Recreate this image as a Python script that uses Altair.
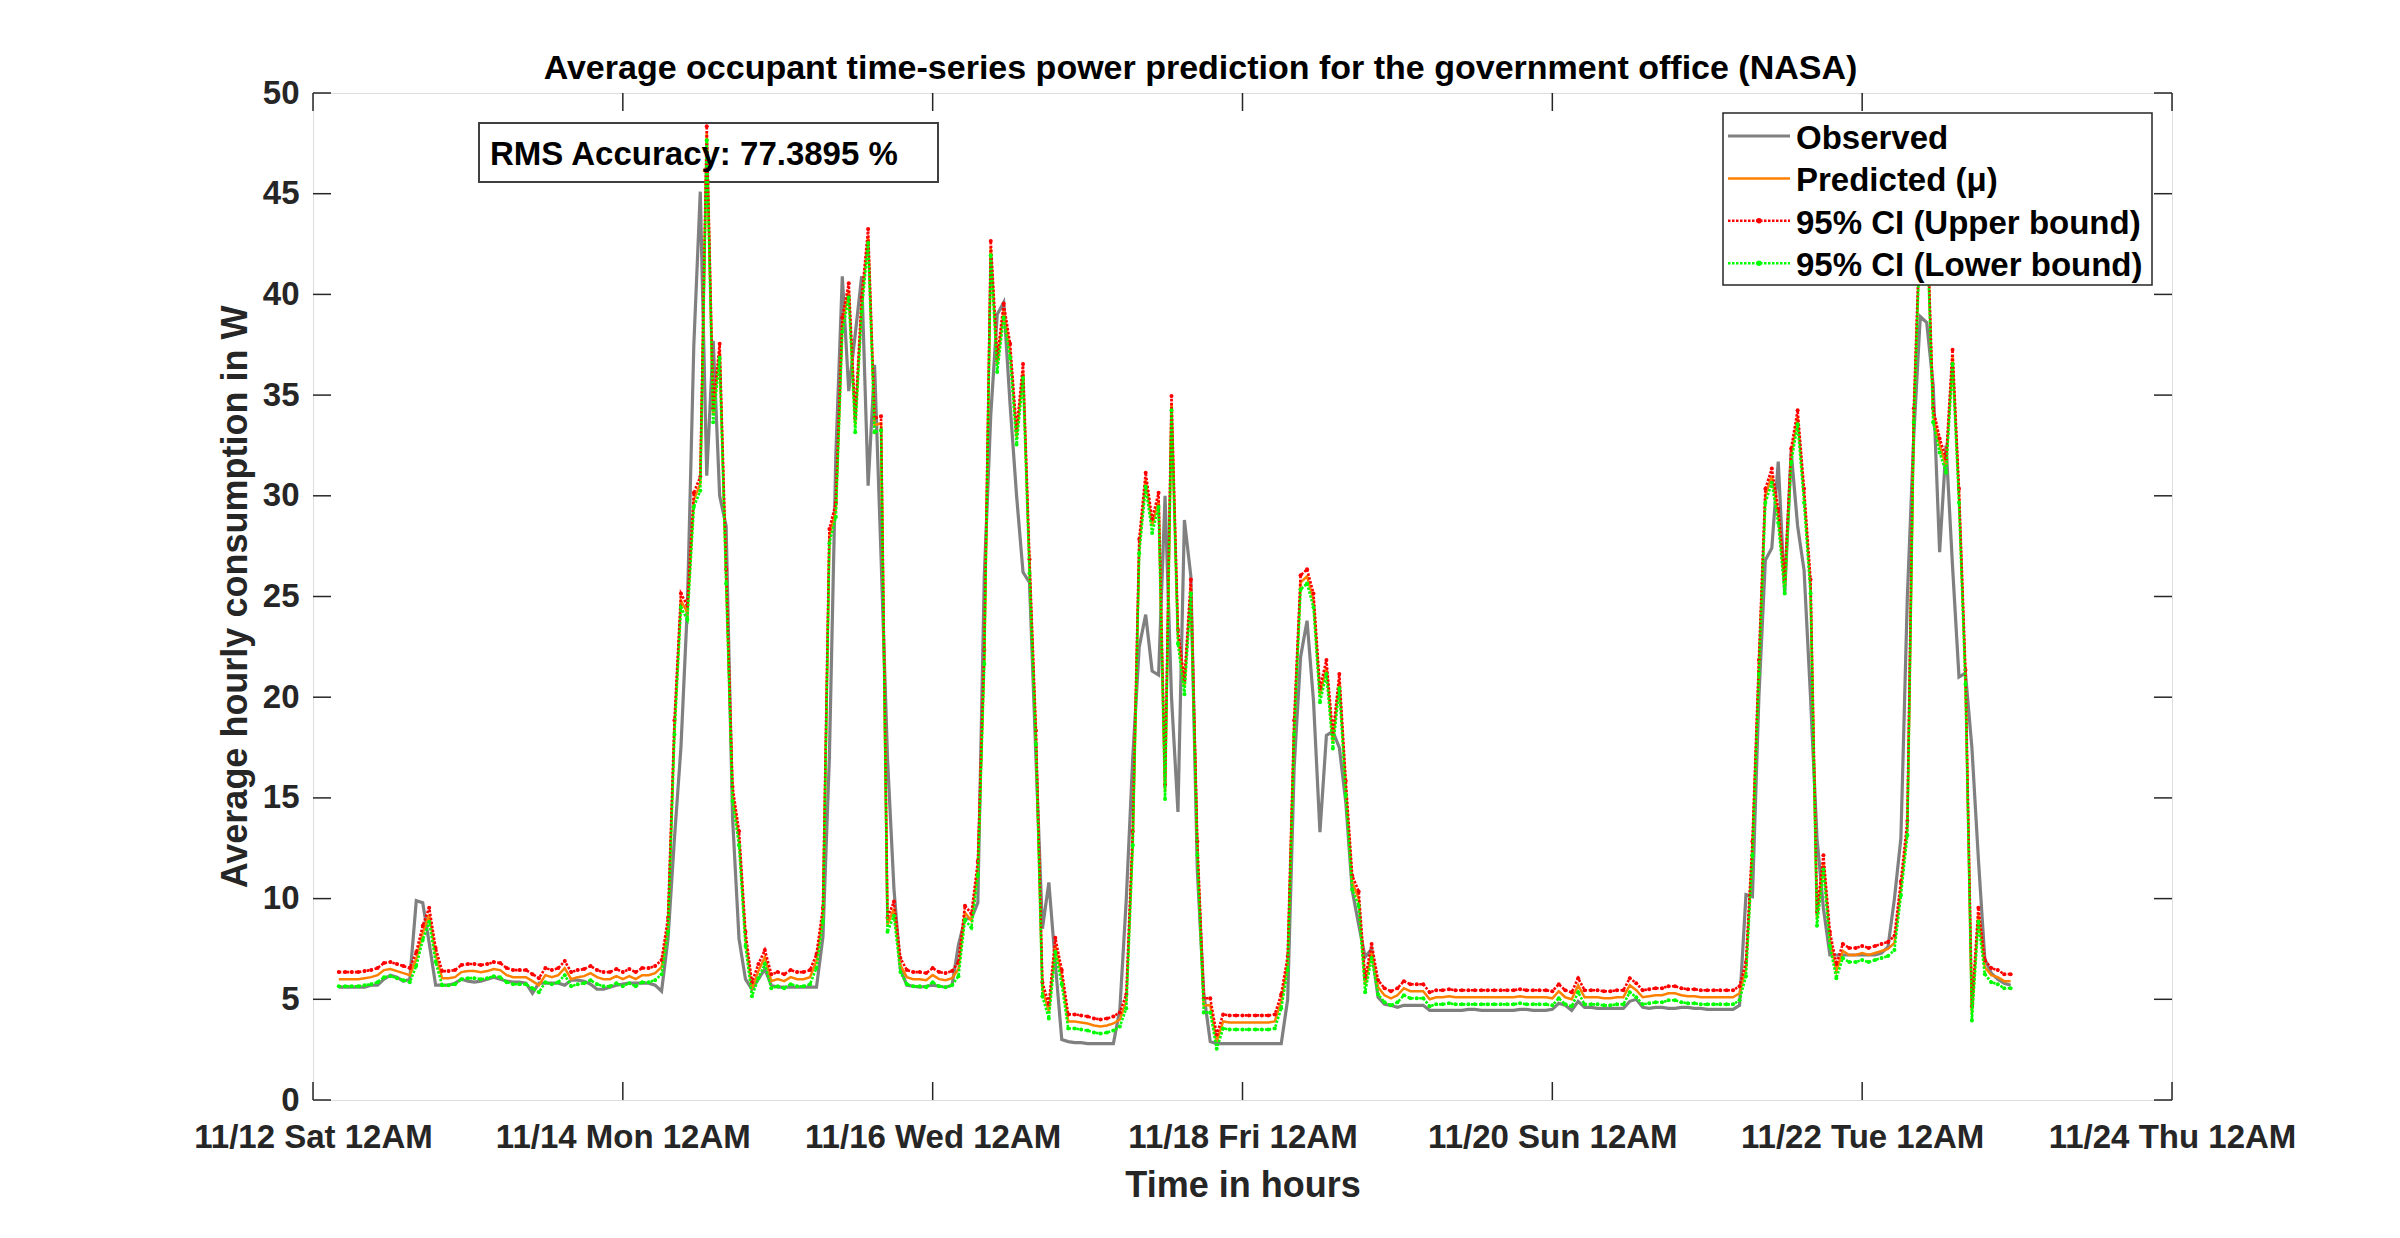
import json
import altair as alt
import pandas as pd

# ---------------- data ----------------
hours = list(range(4, 264))

observed = [
    5.6, 5.6, 5.6, 5.6, 5.6, 5.7, 5.7, 6.0, 6.2, 6.1,
    5.9, 6.0, 9.9, 9.8, 7.8, 5.7, 5.7, 5.7, 5.8, 6.0,
    5.9, 5.85, 5.9, 6.0, 6.1, 6.0, 5.9, 5.85, 5.85, 5.8,
    5.3, 5.8, 5.8, 5.8, 5.8, 5.7, 5.95, 5.95, 5.9, 5.75,
    5.5, 5.5, 5.6, 5.7, 5.75, 5.8, 5.8, 5.8, 5.8, 5.7,
    5.4, 8.0, 13.0, 17.5, 24.5, 37.5, 45.1, 31.0, 37.7, 30.0,
    28.5, 14.0, 8.0, 6.0, 5.5, 6.0, 6.5, 5.7, 5.6, 5.6,
    5.6, 5.6, 5.6, 5.6, 5.6, 8.1, 17.0, 32.0, 40.9, 35.2,
    38.0, 40.9, 30.5, 36.5, 27.0, 17.0, 10.5, 6.5, 5.7, 5.65,
    5.6, 5.65, 5.7, 5.65, 5.6, 5.7, 7.7, 9.0, 9.0, 9.8,
    26.0, 34.0, 39.0, 39.6, 34.5, 30.0, 26.2, 25.7, 17.0, 8.5,
    10.8, 6.8, 3.0, 2.9, 2.85, 2.85, 2.8, 2.8, 2.8, 2.8,
    2.8, 4.5, 10.0, 17.0, 22.5, 24.1, 21.3, 21.1, 30.0, 20.0,
    14.3, 28.8, 26.0, 11.4, 5.3, 2.9, 2.8, 2.8, 2.8, 2.8,
    2.8, 2.8, 2.8, 2.8, 2.8, 2.8, 2.8, 5.0, 16.5, 22.0,
    23.8, 19.8, 13.3, 18.1, 18.3, 17.5, 14.8, 10.4, 8.7, 7.1,
    7.5, 5.1, 4.75, 4.7, 4.6, 4.7, 4.7, 4.7, 4.7, 4.45,
    4.45, 4.45, 4.45, 4.45, 4.45, 4.5, 4.5, 4.45, 4.45, 4.45,
    4.45, 4.45, 4.45, 4.5, 4.5, 4.45, 4.45, 4.45, 4.5, 4.8,
    4.7, 4.45, 4.9, 4.6, 4.6, 4.55, 4.55, 4.55, 4.55, 4.55,
    4.9, 5.0, 4.6, 4.55, 4.6, 4.6, 4.55, 4.55, 4.6, 4.6,
    4.55, 4.55, 4.5, 4.5, 4.5, 4.5, 4.5, 4.7, 10.2, 10.1,
    20.0, 26.8, 27.4, 31.7, 25.1, 32.2, 28.5, 26.3, 20.0, 13.0,
    9.5, 7.2, 7.2, 7.2, 7.2, 7.2, 7.2, 7.2, 7.2, 7.3,
    7.6, 10.0, 13.0, 25.0, 33.0, 38.9, 38.6, 35.5, 27.2, 32.5,
    26.5, 21.0, 21.2, 17.5, 12.0, 7.0, 6.3, 6.0, 5.8, 5.7,
]

predicted = [
    6.0, 6.0, 6.0, 6.0, 6.05, 6.1, 6.2, 6.45, 6.5, 6.4,
    6.3, 6.2, 7.0, 8.3, 9.2, 7.2, 6.05, 6.05, 6.1, 6.35,
    6.4, 6.4, 6.35, 6.4, 6.5, 6.45, 6.2, 6.1, 6.1, 6.1,
    5.9, 5.7, 6.2, 6.1, 6.2, 6.55, 6.0, 6.1, 6.15, 6.3,
    6.1, 6.0, 6.0, 6.15, 6.0, 6.15, 6.0, 6.2, 6.2, 6.3,
    6.6, 8.7, 18.5, 24.8, 24.2, 29.8, 30.6, 48.0, 34.0, 37.2,
    26.0, 15.2, 13.0, 8.0, 5.5, 6.4, 7.1, 5.9, 6.0, 5.9,
    6.1, 6.0, 6.0, 6.1, 6.9, 9.2, 28.0, 29.3, 38.5, 40.2,
    33.5, 39.5, 42.9, 33.5, 33.6, 8.7, 9.5, 6.7, 6.1, 6.0,
    6.0, 5.95, 6.2, 6.0, 5.95, 6.05, 6.5, 9.3, 8.9, 11.5,
    22.0, 42.3, 36.5, 39.2, 37.2, 32.9, 36.2, 26.5, 18.0, 5.5,
    4.4, 7.7, 6.1, 3.9, 3.9, 3.85, 3.8, 3.7, 3.65, 3.7,
    3.8, 4.0, 4.9, 13.0, 27.5, 30.8, 28.5, 29.8, 15.3, 34.6,
    23.0, 20.5, 25.5, 12.5, 4.7, 4.7, 2.9, 3.9, 3.85, 3.85,
    3.85, 3.85, 3.85, 3.85, 3.85, 3.9, 4.9, 6.8, 18.5, 25.7,
    26.0, 24.8, 20.1, 21.5, 17.8, 20.8, 15.5, 10.8, 10.0, 5.7,
    7.4, 5.6, 5.2, 5.05, 5.2, 5.55, 5.4, 5.4, 5.4, 5.0,
    5.1, 5.1, 5.15, 5.1, 5.1, 5.1, 5.1, 5.1, 5.1, 5.1,
    5.1, 5.1, 5.1, 5.15, 5.1, 5.1, 5.1, 5.1, 5.05, 5.4,
    5.1, 5.0, 5.7, 5.1, 5.1, 5.1, 5.05, 5.05, 5.1, 5.1,
    5.7, 5.45, 5.1, 5.15, 5.2, 5.2, 5.3, 5.3, 5.2, 5.15,
    5.15, 5.1, 5.1, 5.1, 5.1, 5.1, 5.1, 5.3, 6.5, 12.5,
    21.5, 30.0, 31.0, 29.0, 25.5, 32.0, 33.9, 30.0, 25.5, 9.0,
    11.8, 8.0, 6.4, 7.4, 7.2, 7.2, 7.3, 7.2, 7.3, 7.4,
    7.5, 7.8, 10.5, 13.5, 34.0, 43.5, 44.0, 34.0, 32.5, 31.5,
    36.9, 30.0, 21.0, 4.3, 9.2, 6.6, 6.2, 6.1, 5.9, 5.9,
]

upper = [
    6.35, 6.35, 6.35, 6.35, 6.4, 6.45, 6.55, 6.8, 6.85, 6.75,
    6.65, 6.55, 7.35, 8.65, 9.55, 7.55, 6.4, 6.4, 6.45, 6.7,
    6.75, 6.75, 6.7, 6.75, 6.85, 6.8, 6.55, 6.45, 6.45, 6.45,
    6.25, 6.05, 6.55, 6.45, 6.55, 6.9, 6.35, 6.45, 6.5, 6.65,
    6.45, 6.35, 6.35, 6.5, 6.35, 6.5, 6.35, 6.55, 6.55, 6.65,
    6.95, 9.05, 18.85, 25.15, 24.55, 30.15, 30.95, 48.35, 34.35, 37.55,
    26.35, 15.55, 13.35, 8.35, 5.85, 6.75, 7.45, 6.25, 6.35, 6.25,
    6.45, 6.35, 6.35, 6.45, 7.25, 9.55, 28.35, 29.65, 38.85, 40.55,
    33.85, 39.85, 43.25, 33.85, 33.95, 9.05, 9.85, 7.05, 6.45, 6.35,
    6.35, 6.3, 6.55, 6.35, 6.3, 6.4, 6.85, 9.65, 9.25, 11.85,
    22.35, 42.65, 36.85, 39.55, 37.55, 33.25, 36.55, 26.85, 18.35, 5.85,
    4.75, 8.05, 6.45, 4.25, 4.25, 4.2, 4.15, 4.05, 4.0, 4.05,
    4.15, 4.35, 5.25, 13.35, 27.85, 31.15, 28.85, 30.15, 15.65, 34.95,
    23.35, 20.85, 25.85, 12.85, 5.05, 5.05, 3.25, 4.25, 4.2, 4.2,
    4.2, 4.2, 4.2, 4.2, 4.2, 4.25, 5.25, 7.15, 18.85, 26.05,
    26.35, 25.15, 20.45, 21.85, 18.15, 21.15, 15.85, 11.15, 10.35, 6.05,
    7.75, 5.95, 5.55, 5.4, 5.55, 5.9, 5.75, 5.75, 5.75, 5.35,
    5.45, 5.45, 5.5, 5.45, 5.45, 5.45, 5.45, 5.45, 5.45, 5.45,
    5.45, 5.45, 5.45, 5.5, 5.45, 5.45, 5.45, 5.45, 5.4, 5.75,
    5.45, 5.35, 6.05, 5.45, 5.45, 5.45, 5.4, 5.4, 5.45, 5.45,
    6.05, 5.8, 5.45, 5.5, 5.55, 5.55, 5.65, 5.65, 5.55, 5.5,
    5.5, 5.45, 5.45, 5.45, 5.45, 5.45, 5.45, 5.65, 6.85, 12.85,
    21.85, 30.35, 31.35, 29.35, 25.85, 32.35, 34.25, 30.35, 25.85, 9.35,
    12.15, 8.35, 6.75, 7.75, 7.55, 7.55, 7.65, 7.55, 7.65, 7.75,
    7.85, 8.15, 10.85, 13.85, 34.35, 43.85, 44.35, 34.35, 32.85, 31.85,
    37.25, 30.35, 21.35, 4.65, 9.55, 6.95, 6.55, 6.45, 6.25, 6.25,
]

lower = [
    5.65, 5.65, 5.65, 5.65, 5.7, 5.75, 5.85, 6.1, 6.15, 6.05,
    5.95, 5.85, 6.65, 7.95, 8.85, 6.85, 5.7, 5.7, 5.75, 6.0,
    6.05, 6.05, 6.0, 6.05, 6.15, 6.1, 5.85, 5.75, 5.75, 5.75,
    5.55, 5.35, 5.85, 5.75, 5.85, 6.2, 5.65, 5.75, 5.8, 5.95,
    5.75, 5.65, 5.65, 5.8, 5.65, 5.8, 5.65, 5.85, 5.85, 5.95,
    6.25, 8.35, 18.15, 24.45, 23.85, 29.45, 30.25, 47.65, 33.65, 36.85,
    25.65, 14.85, 12.65, 7.65, 5.15, 6.05, 6.75, 5.55, 5.65, 5.55,
    5.75, 5.65, 5.65, 5.75, 6.55, 8.85, 27.65, 28.95, 38.15, 39.85,
    33.15, 39.15, 42.55, 33.15, 33.25, 8.35, 9.15, 6.35, 5.75, 5.65,
    5.65, 5.6, 5.85, 5.65, 5.6, 5.7, 6.15, 8.95, 8.55, 11.15,
    21.65, 41.95, 36.15, 38.85, 36.85, 32.55, 35.85, 26.15, 17.65, 5.15,
    4.05, 7.35, 5.75, 3.55, 3.55, 3.5, 3.45, 3.35, 3.3, 3.35,
    3.45, 3.65, 4.55, 12.65, 27.15, 30.45, 28.15, 29.45, 14.95, 34.25,
    22.65, 20.15, 25.15, 12.15, 4.35, 4.35, 2.55, 3.55, 3.5, 3.5,
    3.5, 3.5, 3.5, 3.5, 3.5, 3.55, 4.55, 6.45, 18.15, 25.35,
    25.65, 24.45, 19.75, 21.15, 17.45, 20.45, 15.15, 10.45, 9.65, 5.35,
    7.05, 5.25, 4.85, 4.7, 4.85, 5.2, 5.05, 5.05, 5.05, 4.65,
    4.75, 4.75, 4.8, 4.75, 4.75, 4.75, 4.75, 4.75, 4.75, 4.75,
    4.75, 4.75, 4.75, 4.8, 4.75, 4.75, 4.75, 4.75, 4.7, 5.05,
    4.75, 4.65, 5.35, 4.75, 4.75, 4.75, 4.7, 4.7, 4.75, 4.75,
    5.35, 5.1, 4.75, 4.8, 4.85, 4.85, 4.95, 4.95, 4.85, 4.8,
    4.8, 4.75, 4.75, 4.75, 4.75, 4.75, 4.75, 4.95, 6.15, 12.15,
    21.15, 29.65, 30.65, 28.65, 25.15, 31.65, 33.55, 29.65, 25.15, 8.65,
    11.45, 7.65, 6.05, 7.05, 6.85, 6.85, 6.95, 6.85, 6.95, 7.05,
    7.15, 7.45, 10.15, 13.15, 33.65, 43.15, 43.65, 33.65, 32.15, 31.15,
    36.55, 29.65, 20.65, 3.95, 8.85, 6.25, 5.85, 5.75, 5.55, 5.55,
]

series_names = ["Observed", "Predicted (\u03bc)", "95% CI (Upper bound)", "95% CI (Lower bound)"]
x_tick_values = [0, 48, 96, 144, 192, 240, 288]
x_tick_labels = ["11/12 Sat 12AM", "11/14 Mon 12AM", "11/16 Wed 12AM", "11/18 Fri 12AM",
                 "11/20 Sun 12AM", "11/22 Tue 12AM", "11/24 Thu 12AM"]
y_tick_values = [0, 5, 10, 15, 20, 25, 30, 35, 40, 45, 50]
title_text = "Average occupant time-series power prediction for the government office (NASA)"
x_title = "Time in hours"
y_title = "Average hourly consumption in W"
rms_text = "RMS Accuracy: 77.3895 %"

# ---------------- styling ----------------
W, H = 1859, 1007
FONT = "Liberation Sans"
AX = "#262626"
C_OBS, C_PRED, C_UP, C_LO = "#808080", "#ff8000", "#ff0000", "#00ff00"
DOT = [2.5, 1.5]
SW_OBS, SW_PRED, SW_CI = 3.2, 2.5, 2.6

df = pd.DataFrame({"hour": hours, "observed": observed, "predicted": predicted,
                   "upper": upper, "lower": lower})

x_scale = alt.Scale(domain=[x_tick_values[0], x_tick_values[-1]], nice=False, zero=False)
y_scale = alt.Scale(domain=[y_tick_values[0], y_tick_values[-1]], nice=False, zero=True)

label_expr = f"{json.dumps(x_tick_labels)}[indexof({json.dumps(x_tick_values)}, datum.value)]"
x_axis = alt.Axis(values=x_tick_values, labelExpr=label_expr, title=x_title,
                  ticks=False, domain=False, grid=False, labelFlush=False,
                  labelOverlap=False, labelBound=False, labelLimit=800, labelPadding=21,
                  labelFont=FONT, labelFontSize=33, labelFontWeight="bold", labelColor=AX,
                  titleFont=FONT, titleFontSize=36, titleFontWeight="bold", titleColor=AX,
                  titlePadding=14)
y_axis = alt.Axis(values=y_tick_values, title=y_title, ticks=False, domain=False, grid=False,
                  labelPadding=14, labelFont=FONT, labelFontSize=33, labelFontWeight="bold",
                  labelColor=AX, titleFont=FONT, titleFontSize=36, titleFontWeight="bold",
                  titleColor=AX, titlePadding=8)


def X(field):
    return alt.X(f"{field}:Q", scale=x_scale, axis=x_axis)


def Y(field):
    return alt.Y(f"{field}:Q", scale=y_scale, axis=y_axis)


base = alt.Chart(df)
obs_line = base.mark_line(color=C_OBS, strokeWidth=SW_OBS).encode(x=X("hour"), y=Y("observed"))
pred_line = base.mark_line(color=C_PRED, strokeWidth=SW_PRED).encode(x=X("hour"), y=Y("predicted"))
up_line = base.mark_line(color=C_UP, strokeWidth=SW_CI, strokeDash=DOT).encode(x=X("hour"), y=Y("upper"))
up_pts = base.mark_point(color=C_UP, filled=True, size=16, opacity=1, strokeWidth=0).encode(
    x=X("hour"), y=Y("upper"))
lo_line = base.mark_line(color=C_LO, strokeWidth=SW_CI, strokeDash=DOT).encode(x=X("hour"), y=Y("lower"))
lo_pts = base.mark_point(color=C_LO, filled=True, size=16, opacity=1, strokeWidth=0).encode(
    x=X("hour"), y=Y("lower"))

# inward ticks on all four sides (MATLAB box style)
TL = 18
xt = alt.Chart(pd.DataFrame({"tick": x_tick_values}))
yt = alt.Chart(pd.DataFrame({"tick": y_tick_values}))
tick_b = xt.mark_rule(color=AX, strokeWidth=1.5).encode(x=X("tick"), y=alt.value(H), y2=alt.value(H - TL))
tick_t = xt.mark_rule(color=AX, strokeWidth=1.5).encode(x=X("tick"), y=alt.value(0), y2=alt.value(TL))
tick_l = yt.mark_rule(color=AX, strokeWidth=1.5).encode(y=Y("tick"), x=alt.value(0), x2=alt.value(TL))
tick_r = yt.mark_rule(color=AX, strokeWidth=1.5).encode(y=Y("tick"), x=alt.value(W - TL), x2=alt.value(W))

# RMS annotation box
ann = alt.Chart(pd.DataFrame({"label": [rms_text]}))
rms_box = ann.mark_rect(fill="white", fillOpacity=0, stroke="#404040", strokeWidth=2).encode(
    x=alt.value(166), x2=alt.value(625), y=alt.value(30), y2=alt.value(89))
rms_lbl = ann.mark_text(align="left", baseline="alphabetic", font=FONT, fontSize=33,
                        fontWeight="bold", color="black").encode(
    x=alt.value(177), y=alt.value(72), text="label:N")

# legend (drawn on top, opaque)
leg_df = alt.Chart(pd.DataFrame({"label": [series_names[0]]}))
leg_box = leg_df.mark_rect(fill="white", stroke=AX, strokeWidth=1.5).encode(
    x=alt.value(1410), x2=alt.value(1839), y=alt.value(20), y2=alt.value(192))
legend_layers = [leg_box]
styles = [(C_OBS, SW_OBS, None), (C_PRED, SW_PRED, None), (C_UP, SW_CI, DOT), (C_LO, SW_CI, DOT)]
for i, (name, (col, sw, dash)) in enumerate(zip(series_names, styles)):
    yc = 43 + i * 42.4
    src = alt.Chart(pd.DataFrame({"label": [name]}))
    kw = dict(color=col, strokeWidth=sw)
    if dash:
        kw["strokeDash"] = dash
    legend_layers.append(src.mark_rule(**kw).encode(x=alt.value(1415), x2=alt.value(1477), y=alt.value(yc)))
    if dash:
        legend_layers.append(src.mark_point(color=col, filled=True, size=30, opacity=1, strokeWidth=0).encode(
            x=alt.value(1446), y=alt.value(yc)))
    legend_layers.append(src.mark_text(align="left", baseline="alphabetic", font=FONT, fontSize=33,
                                       fontWeight="bold", color="black").encode(
        x=alt.value(1483), y=alt.value(yc + 13), text="label:N"))

chart = alt.layer(
    rms_box, obs_line, pred_line, up_line, up_pts, lo_line, lo_pts,
    tick_b, tick_t, tick_l, tick_r, rms_lbl, *legend_layers
).properties(
    width=W, height=H,
    title=alt.TitleParams(text=title_text, font=FONT, fontSize=34, fontWeight="bold", color="black",
                          anchor="middle", frame="group", baseline="alphabetic", offset=13,
                          dx=-42, dy=49),
    autosize=alt.AutoSizeParams(type="none"),
    padding={"left": 305, "top": 85, "right": 200, "bottom": 125},
).configure_view(
    stroke=AX, strokeWidth=1.5
).configure(background="white")

chart.save("out.html", embed_options={"renderer": "svg", "actions": False})
